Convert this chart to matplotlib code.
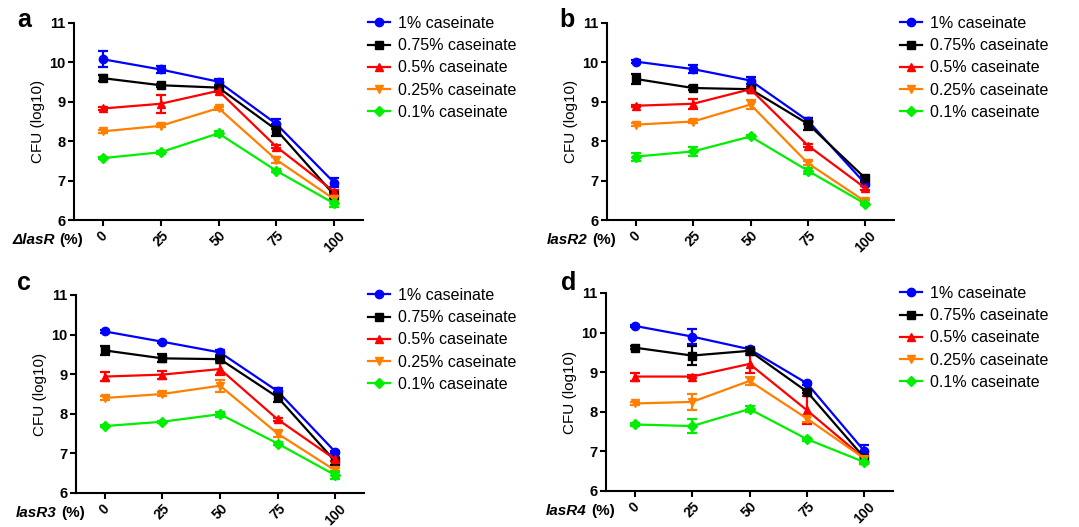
import matplotlib
matplotlib.use("Agg")
import matplotlib.pyplot as plt
from matplotlib.lines import Line2D
import numpy as np

plt.rcParams['font.family'] = ['Liberation Sans', 'DejaVu Sans']

x_pct = [0, 25, 50, 75, 100]
x_ticklabels = ['0', '25', '50', '75', '100']
series_labels = ['1% caseinate', '0.75% caseinate', '0.5% caseinate',
                 '0.25% caseinate', '0.1% caseinate']
panel_letters = ['a', 'b', 'c', 'd']
strain_names = ['\u0394lasR', 'lasR2', 'lasR3', 'lasR4']

# Panel a (ΔlasR)
a_mean = [
    [10.08, 9.82, 9.51, 8.44, 6.95],
    [9.60, 9.42, 9.36, 8.29, 6.64],
    [8.83, 8.95, 9.28, 7.86, 6.72],
    [8.25, 8.39, 8.84, 7.53, 6.53],
    [7.57, 7.72, 8.20, 7.25, 6.42],
]
a_err = [
    [0.20, 0.10, 0.08, 0.12, 0.12],
    [0.07, 0.04, 0.05, 0.15, 0.08],
    [0.03, 0.23, 0.04, 0.04, 0.05],
    [0.04, 0.04, 0.04, 0.08, 0.05],
    [0.03, 0.04, 0.07, 0.04, 0.10],
]
# Panel b (lasR2)
b_mean = [
    [10.02, 9.83, 9.54, 8.52, 6.92],
    [9.58, 9.35, 9.32, 8.44, 7.06],
    [8.90, 8.95, 9.32, 7.89, 6.81],
    [8.42, 8.50, 8.93, 7.44, 6.47],
    [7.61, 7.74, 8.12, 7.25, 6.41],
]
b_err = [
    [0.03, 0.10, 0.10, 0.08, 0.05],
    [0.12, 0.05, 0.05, 0.15, 0.05],
    [0.03, 0.13, 0.04, 0.04, 0.05],
    [0.03, 0.04, 0.12, 0.05, 0.03],
    [0.10, 0.12, 0.04, 0.08, 0.03],
]
# Panel c (lasR3)
c_mean = [
    [10.08, 9.82, 9.55, 8.57, 7.04],
    [9.60, 9.40, 9.38, 8.42, 6.80],
    [8.94, 8.99, 9.13, 7.86, 6.85],
    [8.40, 8.50, 8.71, 7.50, 6.57],
    [7.69, 7.80, 7.99, 7.25, 6.45],
]
c_err = [
    [0.03, 0.03, 0.07, 0.08, 0.03],
    [0.12, 0.10, 0.05, 0.12, 0.10],
    [0.12, 0.10, 0.15, 0.04, 0.05],
    [0.04, 0.04, 0.15, 0.08, 0.05],
    [0.03, 0.03, 0.06, 0.04, 0.10],
]
# Panel d (lasR4)
d_mean = [
    [10.17, 9.90, 9.58, 8.72, 7.01],
    [9.62, 9.42, 9.54, 8.51, 6.84],
    [8.89, 8.89, 9.21, 8.04, 6.82],
    [8.21, 8.25, 8.78, 7.83, 6.82],
    [7.68, 7.64, 8.07, 7.31, 6.73],
]
d_err = [
    [0.03, 0.20, 0.05, 0.04, 0.15],
    [0.03, 0.25, 0.08, 0.04, 0.15],
    [0.10, 0.03, 0.22, 0.35, 0.04],
    [0.04, 0.20, 0.10, 0.10, 0.04],
    [0.03, 0.17, 0.08, 0.04, 0.05],
]

means = [a_mean, b_mean, c_mean, d_mean]
errs = [a_err, b_err, c_err, d_err]

colors = ['#0000FF', '#000000', '#FF0000', '#FF8000', '#00EE00']
markers = ['o', 's', '^', 'v', 'D']
msizes = [6, 6, 6, 6, 5.5]

W, H = 1079, 527
fig = plt.figure(figsize=(W / 100, H / 100), dpi=100)

# axes boxes in pixel coords: (left, right, top, bottom)
boxes = [(74, 363, 23, 220), (607, 894, 23, 220),
         (76, 364, 295, 493), (606, 893, 293, 491)]
letter_pos = [(17, 27), (559, 27), (17, 290), (561, 290)]
legend_pos = [(368, 16), (900, 16), (368, 288), (900, 286)]

for i in range(4):
    l, r, t, b = boxes[i]
    ax = fig.add_axes([l / W, 1 - b / H, (r - l) / W, (b - t) / H])
    handles = []
    for k in range(5):
        ax.errorbar(x_pct, means[i][k], yerr=errs[i][k], color=colors[k],
                    marker=markers[k], markersize=msizes[k], linewidth=1.6,
                    elinewidth=1.6, capsize=3.5, capthick=1.6,
                    clip_on=False)
        handles.append(Line2D([], [], color=colors[k], marker=markers[k],
                              markersize=msizes[k], linewidth=1.6,
                              label=series_labels[k]))
    ax.set_ylim(6, 11)
    ax.set_xlim(-12.5, 112.5)
    ax.set_yticks([6, 7, 8, 9, 10, 11])
    ax.set_yticklabels(['6', '7', '8', '9', '10', '11'],
                       fontweight='bold', fontsize=10.5)
    ax.set_xticks(x_pct)
    ax.set_xticklabels(x_ticklabels, rotation=45, ha='center',
                       fontweight='bold', fontsize=10)
    ax.spines['top'].set_visible(False)
    ax.spines['right'].set_visible(False)
    for s in ['left', 'bottom']:
        ax.spines[s].set_linewidth(1.5)
    ax.tick_params(axis='both', direction='out', length=4, width=1.5)
    ax.tick_params(axis='x', pad=2)
    ax.tick_params(axis='y', pad=2)
    ax.set_ylabel('CFU (log10)', fontsize=11, labelpad=3)

    t1 = ax.text(0.03, -0.10, '(%)', transform=ax.transAxes, ha='right',
                 va='center', fontweight='bold', fontsize=11)
    ax.annotate(strain_names[i], xy=(0, 0.5), xycoords=t1,
                xytext=(-3, 0), textcoords='offset points', ha='right',
                va='center', fontweight='bold', fontstyle='italic',
                fontsize=11)

    lx, ly = letter_pos[i]
    fig.text(lx / W, 1 - ly / H, panel_letters[i], fontsize=18,
             fontweight='bold', ha='left', va='baseline')

    gx, gy = legend_pos[i]
    ax.legend(handles=handles, loc='upper left',
              bbox_to_anchor=(gx / W, 1 - gy / H),
              bbox_transform=fig.transFigure, frameon=False, fontsize=11.5,
              handlelength=1.4, handletextpad=0.5, labelspacing=0.45,
              borderpad=0, borderaxespad=0)

fig.savefig('out.png', dpi=100)
